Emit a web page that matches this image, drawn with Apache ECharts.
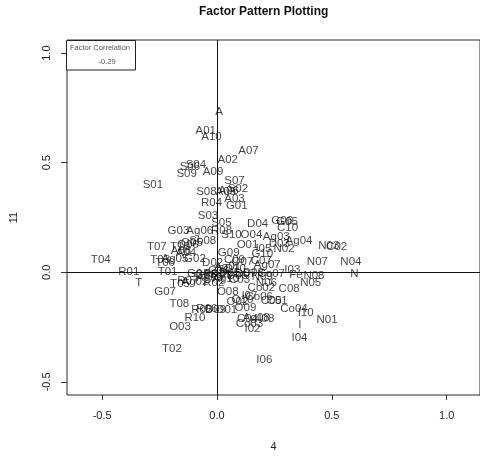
<!DOCTYPE html>
<html>
<head>
<meta charset="utf-8">
<script src="https://cdn.jsdelivr.net/npm/echarts@6/dist/echarts.min.js"></script>
<style>html,body{margin:0;padding:0;background:#fff}#c{width:480px;height:457px}</style>
</head>
<body>
<div id="c"></div>
<script>
var chartTitle = 'Factor Pattern Plotting';
var xAxisName = '4';
var yAxisName = '11';
var factorCorrelation = -0.29;
var xTicks = [-0.5, 0.0, 0.5, 1.0];
var yTicks = [-0.5, 0.0, 0.5, 1.0];

var labels = ['A','A01','A10','A07','A02','S06','S04','S09','A09','S01',
  'S07','S02','S08','A05','A06','A03','R04','G01','S03','S05',
  'D04','G06','G05','C10','Ag03','O04','D03','Ag04','N02','O01',
  'I05','N03','C02','N07','N04','N','I03','N08','N05','Co07',
  'Fe','N09','N06','Co02','C08','O08','I07','Co06','C05','C01',
  'O02','O10','Co04','I10','N01','I','I04','O09','R05','R06',
  'D09','D01','R10','O03','T08','G07','T02','C04','Ag08','I08',
  'Co03','I02','I06','T04','R01','T','T07','T01','T05','T03',
  'T06','Ag05','G02','T10','O06','A08','A04','G03','Ag06','R08',
  'S10','O05','Sb08','D02','G09','C09','O07','C07','Ag07','G10',
  'C03','Ag02','R07','R02','G04','G08','R03','R09','D05','D06',
  'D07','D08','Ag09','Ag10','C06','D10','Ag01'];
var factor4 = [0.009,-0.049,-0.024,0.137,0.047,-0.118,-0.092,-0.132,-0.017,-0.279,
  0.076,0.091,-0.046,0.038,0.051,0.076,-0.024,0.086,-0.039,0.019,
  0.177,0.284,0.305,0.307,0.258,0.150,0.271,0.357,0.292,0.133,
  0.202,0.487,0.521,0.437,0.583,0.598,0.328,0.422,0.408,0.236,
  0.344,0.197,0.215,0.193,0.314,0.047,0.141,0.184,0.236,0.262,
  0.089,0.111,0.335,0.386,0.479,0.361,0.359,0.124,-0.066,-0.044,
  -0.006,0.042,-0.096,-0.161,-0.164,-0.226,-0.196,0.133,0.171,0.215,
  0.141,0.155,0.206,-0.506,-0.384,-0.341,-0.262,-0.215,-0.161,-0.247,
  -0.226,-0.183,-0.096,-0.161,-0.127,-0.157,-0.135,-0.168,-0.075,0.020,
  0.063,-0.109,-0.062,-0.019,0.051,0.076,0.111,0.193,0.219,0.197,
  0.098,-0.096,-0.127,-0.014,-0.083,-0.049,-0.014,0.020,0.055,0.089,
  0.124,0.158,-0.032,0.038,0.007,0.080,0.046];
var factor11 = [0.730,0.644,0.617,0.552,0.512,0.482,0.490,0.449,0.459,0.399,
  0.419,0.380,0.366,0.366,0.371,0.336,0.317,0.302,0.257,0.226,
  0.219,0.235,0.231,0.201,0.163,0.172,0.132,0.145,0.106,0.127,
  0.109,0.121,0.114,0.046,0.046,-0.007,0.011,-0.018,-0.049,-0.008,
  -0.013,-0.022,-0.049,-0.071,-0.076,-0.089,-0.107,-0.112,-0.130,-0.130,
  -0.134,-0.125,-0.167,-0.184,-0.217,-0.239,-0.301,-0.161,-0.170,-0.166,
  -0.170,-0.170,-0.210,-0.247,-0.145,-0.089,-0.351,-0.211,-0.206,-0.214,
  -0.234,-0.259,-0.400,0.056,0.001,-0.049,0.114,0.001,-0.053,0.055,
  0.044,0.060,0.060,0.118,0.127,0.096,0.087,0.189,0.190,0.190,
  0.172,0.136,0.144,0.041,0.087,0.055,0.046,0.050,0.032,0.082,
  -0.035,-0.044,-0.040,-0.049,-0.008,-0.013,-0.008,-0.013,-0.004,-0.017,
  -0.008,-0.004,-0.026,-0.031,0.005,0.014,0.023];

var pts = labels.map(function (n, i) { return { name: n, value: [factor4[i], factor11[i]] }; });

var chart = echarts.init(document.getElementById('c'), null, { renderer: 'canvas' });
var fam = '"Liberation Sans", Arial, sans-serif';
var fmt = function (v) { return v.toFixed(1); };
chart.setOption({
  animation: false,
  backgroundColor: '#fff',
  grid: { left: 66, top: 40, width: 416, height: 360, show: true, borderColor: '#2a2a2a', borderWidth: 1, backgroundColor: 'transparent' },
  xAxis: {
    type: 'value', min: -0.653, max: 1.145,
    name: xAxisName, nameLocation: 'middle', nameGap: 46,
    nameTextStyle: { fontFamily: fam, fontSize: 11, color: '#222' },
    axisLine: { show: false, onZero: false },
    splitLine: { show: false },
    axisTick: { show: true, customValues: xTicks, length: 5, lineStyle: { color: '#333' } },
    axisLabel: { customValues: xTicks, formatter: fmt, margin: 15, fontFamily: fam, fontSize: 11, color: '#222' }
  },
  yAxis: {
    type: 'value', min: -0.56, max: 1.06,
    name: yAxisName, nameLocation: 'middle', nameGap: 48, nameRotate: 90,
    nameTextStyle: { fontFamily: fam, fontSize: 11, color: '#222' },
    axisLine: { show: false, onZero: false },
    splitLine: { show: false },
    axisTick: { show: true, customValues: yTicks, length: 6, lineStyle: { color: '#333' } },
    axisLabel: { customValues: yTicks, formatter: fmt, rotate: 90, margin: 15, fontFamily: fam, fontSize: 11, color: '#222' }
  },
  graphic: [
    { type: 'text', left: 274 - 75, top: 6, style: { text: chartTitle, font: 'bold 12px ' + fam, fill: '#111', width: 150, align: 'center' } },
    { type: 'rect', shape: { x: 66.5, y: 40.5, width: 69, height: 29.5 }, style: { fill: '#fff', stroke: '#222', lineWidth: 1 }, z: 10 },
    { type: 'text', x: 100, y: 48, style: { text: 'Factor Correlation', font: '7.5px ' + fam, fill: '#555', align: 'center', verticalAlign: 'middle' }, z: 11 },
    { type: 'text', x: 107, y: 62, style: { text: factorCorrelation.toFixed(2), font: '7.5px ' + fam, fill: '#555', align: 'center', verticalAlign: 'middle' }, z: 11 }
  ],
  series: [{
    type: 'scatter',
    data: pts,
    symbolSize: 1,
    itemStyle: { color: 'rgba(0,0,0,0)' },
    label: { show: true, position: 'inside', formatter: function (p) { return p.name; }, fontFamily: fam, fontSize: 11.5, color: '#111' },
    labelLayout: { hideOverlap: false },
    markLine: {
      silent: true, symbol: 'none', animation: false,
      label: { show: false },
      lineStyle: { color: '#111', width: 1, type: 'solid' },
      data: [{ xAxis: 0 }, { yAxis: 0 }]
    }
  }]
});
</script>
</body>
</html>
